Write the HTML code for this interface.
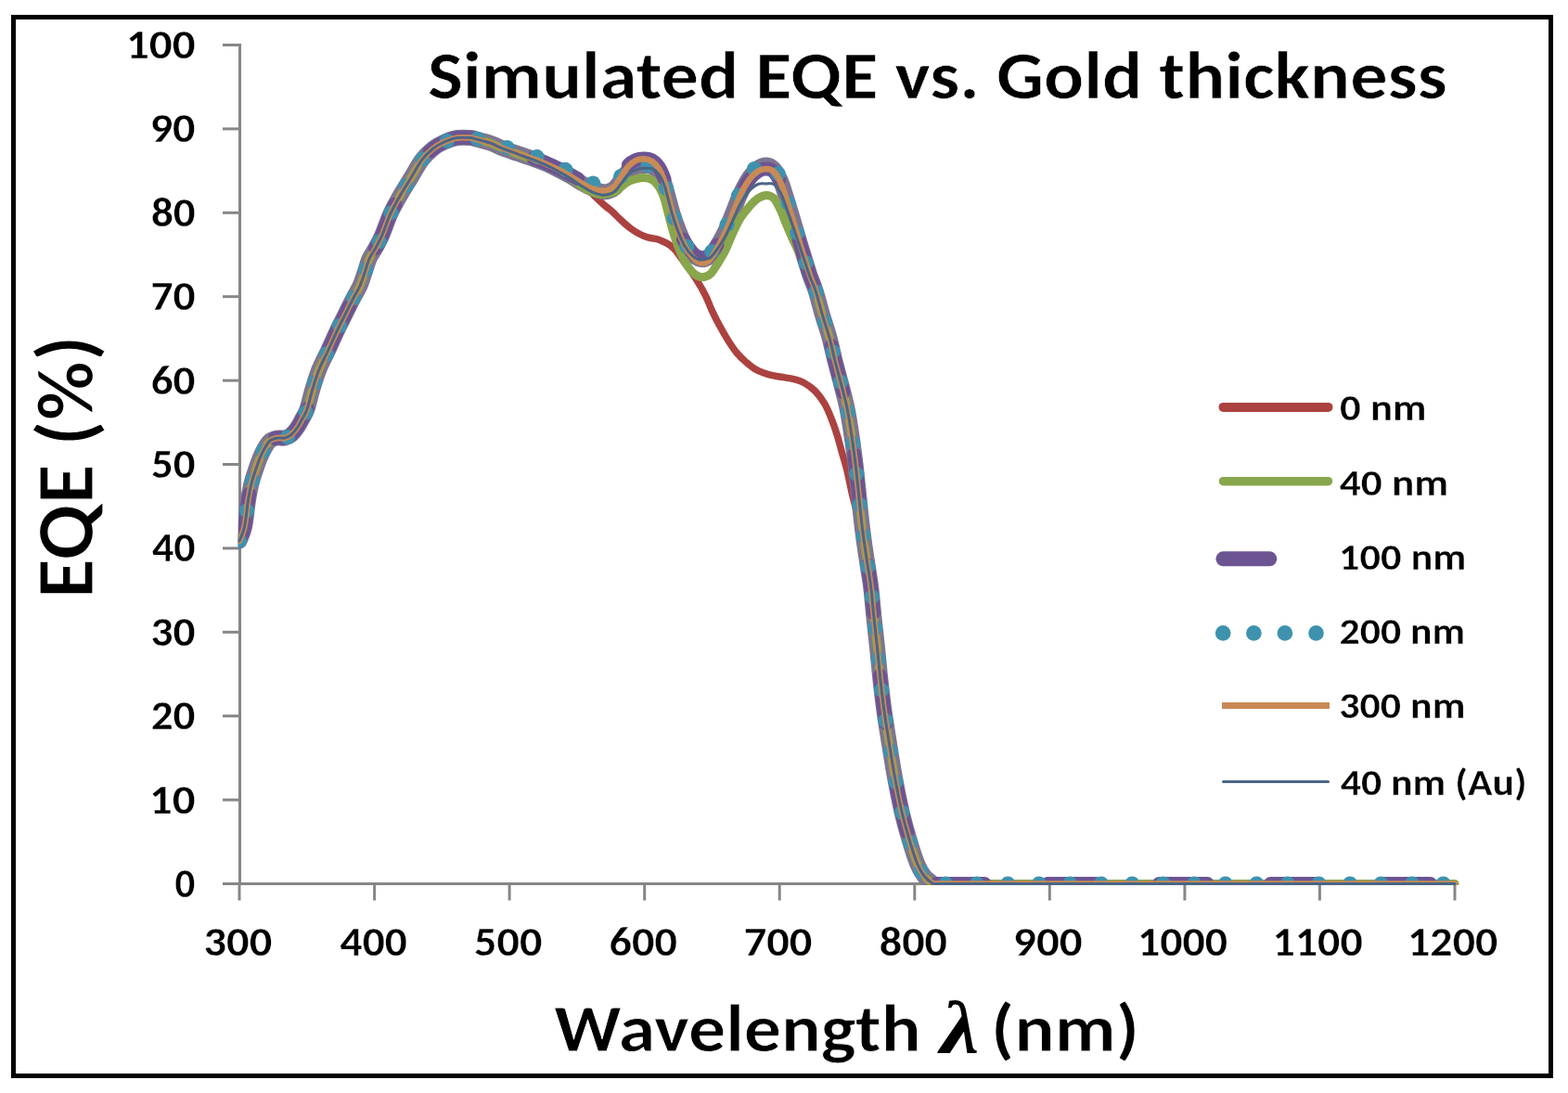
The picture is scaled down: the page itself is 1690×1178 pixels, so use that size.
<!DOCTYPE html>
<html><head><meta charset="utf-8"><title>Simulated EQE vs. Gold thickness</title>
<style>
html,body{margin:0;padding:0;background:#fff;}
body{width:1690px;height:1178px;overflow:hidden;}
svg{display:block;}
text{fill:#000;}
</style></head><body>
<svg width="1690" height="1178" viewBox="0 0 1690 1178">
<rect x="0" y="0" width="1690" height="1178" fill="#fff"/>

<rect x="14.5" y="18.5" width="1657" height="1141" fill="none" stroke="#000" stroke-width="5"/>
<g stroke="#868686" stroke-width="3" fill="none">
<line x1="258.5" y1="47" x2="258.5" y2="954"/>
<line x1="240" y1="952.5" x2="1569.5" y2="952.5"/>
<line x1="240" y1="862.1" x2="258" y2="862.1"/>
<line x1="240" y1="771.7" x2="258" y2="771.7"/>
<line x1="240" y1="681.3" x2="258" y2="681.3"/>
<line x1="240" y1="590.9" x2="258" y2="590.9"/>
<line x1="240" y1="500.5" x2="258" y2="500.5"/>
<line x1="240" y1="410.1" x2="258" y2="410.1"/>
<line x1="240" y1="319.7" x2="258" y2="319.7"/>
<line x1="240" y1="229.3" x2="258" y2="229.3"/>
<line x1="240" y1="138.9" x2="258" y2="138.9"/>
<line x1="240" y1="48.5" x2="258" y2="48.5"/>
<line x1="258.0" y1="952" x2="258.0" y2="970.5"/>
<line x1="403.6" y1="952" x2="403.6" y2="970.5"/>
<line x1="549.1" y1="952" x2="549.1" y2="970.5"/>
<line x1="694.7" y1="952" x2="694.7" y2="970.5"/>
<line x1="840.2" y1="952" x2="840.2" y2="970.5"/>
<line x1="985.8" y1="952" x2="985.8" y2="970.5"/>
<line x1="1131.3" y1="952" x2="1131.3" y2="970.5"/>
<line x1="1276.9" y1="952" x2="1276.9" y2="970.5"/>
<line x1="1422.4" y1="952" x2="1422.4" y2="970.5"/>
<line x1="1568.0" y1="952" x2="1568.0" y2="970.5"/>
</g>
<text x="188.62" y="966.90" style="font-family:Carlito,'Liberation Sans',sans-serif;font-weight:bold" font-size="44.51" textLength="21.76" lengthAdjust="spacingAndGlyphs" stroke="#fff" stroke-width="0.30">0</text>
<text x="161.04" y="876.50" style="font-family:Carlito,'Liberation Sans',sans-serif;font-weight:bold" font-size="44.51" textLength="49.47" lengthAdjust="spacingAndGlyphs" stroke="#fff" stroke-width="0.30">10</text>
<text x="162.71" y="786.10" style="font-family:Carlito,'Liberation Sans',sans-serif;font-weight:bold" font-size="44.51" textLength="47.75" lengthAdjust="spacingAndGlyphs" stroke="#fff" stroke-width="0.30">20</text>
<text x="162.55" y="695.70" style="font-family:Carlito,'Liberation Sans',sans-serif;font-weight:bold" font-size="44.51" textLength="47.92" lengthAdjust="spacingAndGlyphs" stroke="#fff" stroke-width="0.30">30</text>
<text x="163.96" y="605.30" style="font-family:Carlito,'Liberation Sans',sans-serif;font-weight:bold" font-size="44.51" textLength="46.48" lengthAdjust="spacingAndGlyphs" stroke="#fff" stroke-width="0.30">40</text>
<text x="162.95" y="514.90" style="font-family:Carlito,'Liberation Sans',sans-serif;font-weight:bold" font-size="44.51" textLength="47.51" lengthAdjust="spacingAndGlyphs" stroke="#fff" stroke-width="0.30">50</text>
<text x="162.76" y="424.50" style="font-family:Carlito,'Liberation Sans',sans-serif;font-weight:bold" font-size="44.51" textLength="47.70" lengthAdjust="spacingAndGlyphs" stroke="#fff" stroke-width="0.30">60</text>
<text x="162.40" y="334.10" style="font-family:Carlito,'Liberation Sans',sans-serif;font-weight:bold" font-size="44.51" textLength="48.07" lengthAdjust="spacingAndGlyphs" stroke="#fff" stroke-width="0.30">70</text>
<text x="162.90" y="243.70" style="font-family:Carlito,'Liberation Sans',sans-serif;font-weight:bold" font-size="44.51" textLength="47.56" lengthAdjust="spacingAndGlyphs" stroke="#fff" stroke-width="0.30">80</text>
<text x="161.69" y="153.30" style="font-family:Carlito,'Liberation Sans',sans-serif;font-weight:bold" font-size="44.51" textLength="48.80" lengthAdjust="spacingAndGlyphs" stroke="#fff" stroke-width="0.30">90</text>
<text x="136.02" y="62.90" style="font-family:Carlito,'Liberation Sans',sans-serif;font-weight:bold" font-size="44.51" textLength="74.48" lengthAdjust="spacingAndGlyphs" stroke="#fff" stroke-width="0.30">100</text>
<text x="219.60" y="1030.00" style="font-family:Carlito,'Liberation Sans',sans-serif;font-weight:bold" font-size="44.51" textLength="73.59" lengthAdjust="spacingAndGlyphs" stroke="#fff" stroke-width="0.30">300</text>
<text x="366.61" y="1030.00" style="font-family:Carlito,'Liberation Sans',sans-serif;font-weight:bold" font-size="44.51" textLength="72.12" lengthAdjust="spacingAndGlyphs" stroke="#fff" stroke-width="0.30">400</text>
<text x="511.12" y="1030.00" style="font-family:Carlito,'Liberation Sans',sans-serif;font-weight:bold" font-size="44.51" textLength="73.17" lengthAdjust="spacingAndGlyphs" stroke="#fff" stroke-width="0.30">500</text>
<text x="656.49" y="1030.00" style="font-family:Carlito,'Liberation Sans',sans-serif;font-weight:bold" font-size="44.51" textLength="73.37" lengthAdjust="spacingAndGlyphs" stroke="#fff" stroke-width="0.30">600</text>
<text x="801.68" y="1030.00" style="font-family:Carlito,'Liberation Sans',sans-serif;font-weight:bold" font-size="44.51" textLength="73.74" lengthAdjust="spacingAndGlyphs" stroke="#fff" stroke-width="0.30">700</text>
<text x="947.74" y="1030.00" style="font-family:Carlito,'Liberation Sans',sans-serif;font-weight:bold" font-size="44.51" textLength="73.22" lengthAdjust="spacingAndGlyphs" stroke="#fff" stroke-width="0.30">800</text>
<text x="1092.08" y="1030.00" style="font-family:Carlito,'Liberation Sans',sans-serif;font-weight:bold" font-size="44.51" textLength="74.46" lengthAdjust="spacingAndGlyphs" stroke="#fff" stroke-width="0.30">900</text>
<text x="1225.98" y="1030.00" style="font-family:Carlito,'Liberation Sans',sans-serif;font-weight:bold" font-size="44.51" textLength="97.19" lengthAdjust="spacingAndGlyphs" stroke="#fff" stroke-width="0.30">1000</text>
<text x="1371.54" y="1030.00" style="font-family:Carlito,'Liberation Sans',sans-serif;font-weight:bold" font-size="44.51" textLength="97.19" lengthAdjust="spacingAndGlyphs" stroke="#fff" stroke-width="0.30">1100</text>
<text x="1517.09" y="1030.00" style="font-family:Carlito,'Liberation Sans',sans-serif;font-weight:bold" font-size="44.51" textLength="97.19" lengthAdjust="spacingAndGlyphs" stroke="#fff" stroke-width="0.30">1200</text>
<text x="461.01" y="105.80" style="font-family:Carlito,'Liberation Sans',sans-serif;font-weight:bold" font-size="73.15" textLength="1098.72" lengthAdjust="spacingAndGlyphs" stroke="#fff" stroke-width="0.60">Simulated EQE vs. Gold thickness</text>
<text transform="rotate(-90)" x="-645.04" y="100.00" style="font-family:Carlito,'Liberation Sans',sans-serif;font-weight:bold" font-size="87.96" textLength="283.38" lengthAdjust="spacingAndGlyphs" stroke="#fff" stroke-width="1.20">EQE (%)</text>
<text x="597.25" y="1133.00" style="font-family:Carlito,'Liberation Sans',sans-serif;font-weight:bold" font-size="72.53" textLength="395.32" lengthAdjust="spacingAndGlyphs" stroke="#fff" stroke-width="0.80">Wavelength</text>
<text x="1013.43" y="1133.70" style="font-family:'Liberation Serif','DejaVu Serif',serif;font-style:italic;font-weight:bold" font-size="79.69" textLength="41.92" lengthAdjust="spacingAndGlyphs">λ</text>
<text x="1068.05" y="1133.00" style="font-family:Carlito,'Liberation Sans',sans-serif;font-weight:bold" font-size="72.53" textLength="159.89" lengthAdjust="spacingAndGlyphs" stroke="#fff" stroke-width="0.80">(nm)</text>
<defs><clipPath id="pa"><rect x="256.8" y="30" width="1320" height="924"/></clipPath></defs>
<g clip-path="url(#pa)" fill="none" stroke-linecap="round" stroke-linejoin="round">
<path d="M258.0,583.0 C258.9,580.5 261.9,575.3 263.5,568.0 C265.1,560.7 266.2,546.8 267.5,539.0 C268.8,531.2 269.6,526.7 271.0,521.0 C272.4,515.3 274.5,509.5 276.0,505.0 C277.5,500.5 278.5,497.6 280.0,494.0 C281.5,490.4 283.2,486.7 285.0,483.5 C286.8,480.3 288.7,476.9 291.0,475.0 C293.3,473.1 296.3,472.5 299.0,472.0 C301.7,471.5 304.5,472.6 307.0,472.0 C309.5,471.4 311.7,470.5 314.0,468.5 C316.3,466.5 319.0,462.9 321.0,460.0 C323.0,457.1 324.3,454.2 326.0,451.0 C327.7,447.8 329.2,446.3 331.0,441.0 C332.8,435.7 334.8,426.2 337.0,419.0 C339.2,411.8 341.2,405.0 344.0,398.0 C346.8,391.0 350.7,384.2 354.0,377.0 C357.3,369.8 360.9,361.5 364.0,355.0 C367.1,348.5 369.7,343.7 372.5,338.0 C375.3,332.3 378.4,326.0 381.0,321.0 C383.6,316.0 386.0,312.5 388.0,308.0 C390.0,303.5 391.3,298.8 393.0,294.0 C394.7,289.2 396.0,283.5 398.0,279.0 C400.0,274.5 402.7,271.3 405.0,267.0 C407.3,262.7 409.3,259.2 412.0,253.0 C414.7,246.8 417.7,237.2 421.0,230.0 C424.3,222.8 428.3,215.9 432.0,209.5 C435.7,203.1 439.2,197.8 443.0,191.5 C446.8,185.2 451.0,177.2 455.0,172.0 C459.0,166.8 463.0,163.2 467.0,160.0 C471.0,156.8 474.7,154.9 479.0,153.0 C483.3,151.1 488.3,149.2 493.0,148.5 C497.7,147.8 503.3,148.2 507.0,148.5 C510.7,148.8 511.5,149.6 515.0,150.5 C518.5,151.4 523.3,152.4 528.0,154.0 C532.7,155.6 538.0,158.2 543.0,160.0 C548.0,161.8 553.2,163.4 558.0,165.0 C562.8,166.6 567.2,167.8 572.0,169.5 C576.8,171.2 582.2,173.0 587.0,175.0 C591.8,177.0 596.3,179.2 601.0,181.5 C605.7,183.8 610.7,186.2 615.0,189.0 C619.3,191.8 623.3,194.9 627.0,198.0 C630.7,201.1 633.7,204.3 637.0,207.5 C640.3,210.7 644.0,214.4 646.8,217.0 C649.6,219.6 651.3,221.1 653.6,223.0 C655.9,224.9 658.1,226.4 660.4,228.5 C662.7,230.6 664.9,233.1 667.2,235.3 C669.5,237.5 671.7,239.6 674.0,241.5 C676.3,243.4 678.5,245.4 680.8,247.0 C683.1,248.6 685.4,250.1 687.6,251.3 C689.9,252.6 692.0,253.6 694.3,254.5 C696.5,255.4 698.8,256.0 701.1,256.5 C703.4,257.0 705.6,257.1 707.9,257.7 C710.2,258.3 712.4,259.3 714.7,260.3 C717.0,261.3 719.5,262.5 721.5,263.9 C723.5,265.3 725.3,266.8 727.0,268.6 C728.7,270.4 729.5,271.8 731.7,274.7 C733.9,277.6 736.8,281.4 740.0,286.0 C743.2,290.6 747.6,296.6 751.0,302.0 C754.4,307.4 757.7,313.1 760.4,318.5 C763.1,323.9 764.7,328.9 767.2,334.3 C769.7,339.7 772.4,345.2 775.3,350.6 C778.2,356.0 781.6,361.9 784.8,366.9 C788.0,371.9 791.1,376.6 794.3,380.5 C797.5,384.4 800.4,387.1 803.8,390.0 C807.2,392.9 810.6,395.9 814.7,398.2 C818.8,400.5 823.8,402.2 828.3,403.6 C832.8,405.0 837.4,405.5 841.9,406.3 C846.4,407.1 851.5,407.6 855.5,408.6 C859.5,409.6 862.1,410.1 866.0,412.2 C869.9,414.3 874.8,417.7 878.6,421.5 C882.4,425.3 885.8,430.1 888.8,435.2 C891.8,440.3 894.2,446.5 896.4,452.0 C898.6,457.5 900.2,462.3 902.0,468.0 C903.8,473.7 905.2,479.4 907.0,486.0 C908.8,492.6 911.1,499.5 913.0,507.3 C914.9,515.1 916.5,524.2 918.5,532.7 C920.5,541.2 922.9,549.5 925.0,558.0 C927.1,566.5 929.6,575.1 931.3,583.6 C933.0,592.1 933.8,600.6 935.1,609.1 C936.4,617.6 937.8,625.0 938.9,634.5 C940.0,644.0 940.9,655.4 942.0,666.0 C943.1,676.6 944.3,686.3 945.5,698.0 C946.7,709.7 948.0,724.5 949.3,736.0 C950.6,747.5 951.6,756.3 953.1,767.0 C954.6,777.7 956.3,788.2 958.2,800.0 C960.1,811.8 962.2,825.3 964.5,838.0 C966.8,850.7 969.7,865.0 972.2,876.0 C974.8,887.0 977.0,894.8 979.8,904.0 C982.5,913.2 986.0,924.3 988.7,931.0 C991.4,937.7 993.5,940.7 996.0,944.0 C998.5,947.3 1001.0,949.6 1004.0,951.0 C1007.0,952.4 998.0,952.2 1014.0,952.5 C1030.0,952.8 1052.3,952.5 1100.0,952.5 C1147.7,952.5 1222.0,952.5 1300.0,952.5 C1378.0,952.5 1523.3,952.5 1568.0,952.5" stroke="#ab4240" stroke-width="7.5"/>
<path d="M258.0,583.0 C258.9,580.5 261.9,575.3 263.5,568.0 C265.1,560.7 266.2,546.8 267.5,539.0 C268.8,531.2 269.6,526.7 271.0,521.0 C272.4,515.3 274.5,509.5 276.0,505.0 C277.5,500.5 278.5,497.6 280.0,494.0 C281.5,490.4 283.2,486.7 285.0,483.5 C286.8,480.3 288.7,476.9 291.0,475.0 C293.3,473.1 296.3,472.5 299.0,472.0 C301.7,471.5 304.5,472.6 307.0,472.0 C309.5,471.4 311.7,470.5 314.0,468.5 C316.3,466.5 319.0,462.9 321.0,460.0 C323.0,457.1 324.3,454.2 326.0,451.0 C327.7,447.8 329.2,446.3 331.0,441.0 C332.8,435.7 334.8,426.2 337.0,419.0 C339.2,411.8 341.2,405.0 344.0,398.0 C346.8,391.0 350.7,384.2 354.0,377.0 C357.3,369.8 360.9,361.5 364.0,355.0 C367.1,348.5 369.7,343.7 372.5,338.0 C375.3,332.3 378.4,326.0 381.0,321.0 C383.6,316.0 386.0,312.5 388.0,308.0 C390.0,303.5 391.3,298.8 393.0,294.0 C394.7,289.2 396.0,283.5 398.0,279.0 C400.0,274.5 402.7,271.3 405.0,267.0 C407.3,262.7 409.3,259.2 412.0,253.0 C414.7,246.8 417.7,237.2 421.0,230.0 C424.3,222.8 428.3,215.9 432.0,209.5 C435.7,203.1 439.2,197.8 443.0,191.5 C446.8,185.2 451.0,177.2 455.0,172.0 C459.0,166.8 463.0,163.2 467.0,160.0 C471.0,156.8 474.7,154.9 479.0,153.0 C483.3,151.1 488.3,149.2 493.0,148.5 C497.7,147.8 503.3,148.2 507.0,148.5 C510.7,148.8 511.5,149.6 515.0,150.5 C518.5,151.4 523.3,152.4 528.0,154.0 C532.7,155.6 538.0,158.3 543.0,160.3 C548.0,162.2 553.2,163.9 558.0,165.6 C562.8,167.2 567.2,168.6 572.0,170.3 C576.8,172.1 582.2,174.0 587.0,176.0 C591.8,178.0 596.3,180.2 601.0,182.5 C605.7,184.8 610.7,187.5 615.0,190.0 C619.3,192.5 623.2,195.3 627.0,197.5 C630.8,199.7 634.5,201.5 638.0,203.0 C641.5,204.5 645.0,205.8 648.0,206.3 C651.0,206.8 653.5,206.8 656.0,206.1 C658.5,205.4 660.7,204.5 663.0,202.3 C665.3,200.1 667.7,196.0 670.0,193.0 C672.3,190.0 674.5,186.6 677.0,184.4 C679.5,182.2 682.2,181.0 685.0,180.0 C687.8,179.0 691.0,178.7 694.0,178.6 C697.0,178.5 700.3,178.5 703.0,179.7 C705.7,180.9 707.8,183.0 710.0,186.0 C712.2,189.0 714.3,193.5 716.0,197.8 C717.7,202.1 718.5,206.6 720.0,212.0 C721.5,217.4 723.2,224.2 725.0,230.0 C726.8,235.8 728.8,241.5 731.0,247.0 C733.2,252.5 735.5,258.5 738.0,263.0 C740.5,267.5 743.5,271.3 746.0,274.0 C748.5,276.7 750.8,278.1 753.0,279.0 C755.2,279.9 756.8,280.1 759.0,279.5 C761.2,278.9 763.7,278.0 766.0,275.6 C768.3,273.2 770.3,269.6 773.0,265.1 C775.7,260.6 779.2,254.6 782.0,248.5 C784.8,242.5 787.3,235.6 790.0,229.0 C792.7,222.4 795.0,215.4 798.0,209.0 C801.0,202.7 804.8,195.5 808.0,190.8 C811.2,186.2 814.0,183.5 817.0,181.3 C820.0,179.2 823.2,177.9 826.0,178.0 C828.8,178.1 831.5,179.5 834.0,182.1 C836.5,184.8 838.8,189.2 841.0,194.1 C843.2,199.0 845.0,205.5 847.0,211.7 C849.0,217.9 850.8,224.1 853.0,231.3 C855.2,238.5 857.7,247.2 860.0,255.0 C862.3,262.8 864.8,271.0 867.0,278.0 C869.2,285.0 871.0,291.2 873.0,297.0 C875.0,302.8 876.8,306.2 879.0,313.0 C881.2,319.8 883.5,329.5 886.0,338.0 C888.5,346.5 891.7,355.5 894.0,364.0 C896.3,372.5 897.9,380.7 900.0,389.0 C902.1,397.3 904.4,405.5 906.6,414.0 C908.8,422.5 911.1,430.7 913.0,440.0 C914.9,449.3 916.5,460.0 918.0,470.0 C919.5,480.0 920.8,490.3 922.0,500.0 C923.2,509.7 924.0,518.5 925.0,528.0 C926.0,537.5 927.0,547.7 928.0,557.0 C929.0,566.3 930.1,574.9 931.3,583.6 C932.5,592.3 933.8,600.6 935.1,609.1 C936.4,617.6 937.8,625.0 938.9,634.5 C940.0,644.0 940.9,655.4 942.0,666.0 C943.1,676.6 944.3,686.3 945.5,698.0 C946.7,709.7 948.0,724.5 949.3,736.0 C950.6,747.5 951.6,756.3 953.1,767.0 C954.6,777.7 956.3,788.2 958.2,800.0 C960.1,811.8 962.2,825.3 964.5,838.0 C966.8,850.7 969.7,865.0 972.2,876.0 C974.8,887.0 977.0,894.8 979.8,904.0 C982.5,913.2 986.0,924.3 988.7,931.0 C991.4,937.7 993.5,940.7 996.0,944.0 C998.5,947.3 1002.7,949.8 1004.0,951.0" stroke="#7d7590" stroke-width="17"/>
<path d="M258.0,583.0 C258.9,580.5 261.9,575.3 263.5,568.0 C265.1,560.7 266.2,546.8 267.5,539.0 C268.8,531.2 269.6,526.7 271.0,521.0 C272.4,515.3 274.5,509.5 276.0,505.0 C277.5,500.5 278.5,497.6 280.0,494.0 C281.5,490.4 283.2,486.7 285.0,483.5 C286.8,480.3 288.7,476.9 291.0,475.0 C293.3,473.1 296.3,472.5 299.0,472.0 C301.7,471.5 304.5,472.6 307.0,472.0 C309.5,471.4 311.7,470.5 314.0,468.5 C316.3,466.5 319.0,462.9 321.0,460.0 C323.0,457.1 324.3,454.2 326.0,451.0 C327.7,447.8 329.2,446.3 331.0,441.0 C332.8,435.7 334.8,426.2 337.0,419.0 C339.2,411.8 341.2,405.0 344.0,398.0 C346.8,391.0 350.7,384.2 354.0,377.0 C357.3,369.8 360.9,361.5 364.0,355.0 C367.1,348.5 369.7,343.7 372.5,338.0 C375.3,332.3 378.4,326.0 381.0,321.0 C383.6,316.0 386.0,312.5 388.0,308.0 C390.0,303.5 391.3,298.8 393.0,294.0 C394.7,289.2 396.0,283.5 398.0,279.0 C400.0,274.5 402.7,271.3 405.0,267.0 C407.3,262.7 409.3,259.2 412.0,253.0 C414.7,246.8 417.7,237.2 421.0,230.0 C424.3,222.8 428.3,215.9 432.0,209.5 C435.7,203.1 439.2,197.8 443.0,191.5 C446.8,185.2 451.0,177.2 455.0,172.0 C459.0,166.8 463.0,163.2 467.0,160.0 C471.0,156.8 474.7,154.9 479.0,153.0 C483.3,151.1 488.3,149.2 493.0,148.5 C497.7,147.8 503.3,148.2 507.0,148.5 C510.7,148.8 511.5,149.6 515.0,150.5 C518.5,151.4 523.3,152.3 528.0,154.0 C532.7,155.7 538.0,158.5 543.0,160.5 C548.0,162.5 553.2,164.3 558.0,166.1 C562.8,167.9 567.2,169.3 572.0,171.2 C576.8,173.0 582.2,175.1 587.0,177.2 C591.8,179.4 596.3,181.7 601.0,184.2 C605.7,186.7 610.7,189.6 615.0,192.3 C619.3,195.1 623.2,198.2 627.0,200.6 C630.8,203.1 634.5,205.4 638.0,206.9 C641.5,208.3 645.0,209.2 648.0,209.5 C651.0,209.8 653.5,209.0 656.0,208.5 C658.5,208.0 660.7,207.6 663.0,206.3 C665.3,205.1 667.7,202.8 670.0,201.0 C672.3,199.2 674.5,197.1 677.0,195.8 C679.5,194.5 682.2,193.7 685.0,193.0 C687.8,192.3 691.0,191.4 694.0,191.6 C697.0,191.8 700.3,192.4 703.0,194.0 C705.7,195.6 707.8,197.7 710.0,201.0 C712.2,204.3 714.3,209.3 716.0,214.0 C717.7,218.7 718.5,223.3 720.0,229.0 C721.5,234.7 723.2,241.8 725.0,248.0 C726.8,254.2 728.8,260.3 731.0,266.0 C733.2,271.7 735.5,277.5 738.0,282.0 C740.5,286.5 743.5,290.3 746.0,293.0 C748.5,295.7 750.8,297.1 753.0,298.0 C755.2,298.9 756.8,299.0 759.0,298.5 C761.2,298.0 763.7,297.2 766.0,295.0 C768.3,292.8 770.3,289.3 773.0,285.0 C775.7,280.7 779.2,275.1 782.0,269.5 C784.8,263.8 787.3,256.7 790.0,251.0 C792.7,245.3 795.0,240.0 798.0,235.2 C801.0,230.4 804.8,225.8 808.0,222.2 C811.2,218.6 814.0,215.8 817.0,213.8 C820.0,211.8 823.2,210.4 826.0,210.4 C828.8,210.4 831.5,211.1 834.0,213.7 C836.5,216.2 838.8,221.4 841.0,225.8 C843.2,230.3 845.0,235.7 847.0,240.5 C849.0,245.3 850.8,249.8 853.0,254.6 C855.2,259.5 857.7,264.6 860.0,269.8 C862.3,274.9 864.8,280.2 867.0,285.2 C869.2,290.2 871.0,295.0 873.0,299.8 C875.0,304.5 876.8,307.4 879.0,313.8 C881.2,320.1 883.5,329.6 886.0,338.0 C888.5,346.4 891.7,355.5 894.0,364.0 C896.3,372.5 897.9,380.7 900.0,389.0 C902.1,397.3 904.4,405.5 906.6,414.0 C908.8,422.5 911.1,430.7 913.0,440.0 C914.9,449.3 916.5,460.0 918.0,470.0 C919.5,480.0 920.8,490.3 922.0,500.0 C923.2,509.7 924.0,518.5 925.0,528.0 C926.0,537.5 927.0,547.7 928.0,557.0 C929.0,566.3 930.1,574.9 931.3,583.6 C932.5,592.3 933.8,600.6 935.1,609.1 C936.4,617.6 937.8,625.0 938.9,634.5 C940.0,644.0 940.9,655.4 942.0,666.0 C943.1,676.6 944.3,686.3 945.5,698.0 C946.7,709.7 948.0,724.5 949.3,736.0 C950.6,747.5 951.6,756.3 953.1,767.0 C954.6,777.7 956.3,788.2 958.2,800.0 C960.1,811.8 962.2,825.3 964.5,838.0 C966.8,850.7 969.7,865.0 972.2,876.0 C974.8,887.0 977.0,894.8 979.8,904.0 C982.5,913.2 986.0,924.3 988.7,931.0 C991.4,937.7 993.5,940.7 996.0,944.0 C998.5,947.3 1001.0,949.6 1004.0,951.0 C1007.0,952.4 998.0,952.2 1014.0,952.5 C1030.0,952.8 1052.3,952.5 1100.0,952.5 C1147.7,952.5 1222.0,952.5 1300.0,952.5 C1378.0,952.5 1523.3,952.5 1568.0,952.5" stroke="#88a64c" stroke-width="9"/>
<path d="M258.0,583.0 C258.9,580.5 261.9,575.3 263.5,568.0 C265.1,560.7 266.2,546.8 267.5,539.0 C268.8,531.2 269.6,526.7 271.0,521.0 C272.4,515.3 274.5,509.5 276.0,505.0 C277.5,500.5 278.5,497.6 280.0,494.0 C281.5,490.4 283.2,486.7 285.0,483.5 C286.8,480.3 288.7,476.9 291.0,475.0 C293.3,473.1 296.3,472.5 299.0,472.0 C301.7,471.5 304.5,472.6 307.0,472.0 C309.5,471.4 311.7,470.5 314.0,468.5 C316.3,466.5 319.0,462.9 321.0,460.0 C323.0,457.1 324.3,454.2 326.0,451.0 C327.7,447.8 329.2,446.3 331.0,441.0 C332.8,435.7 334.8,426.2 337.0,419.0 C339.2,411.8 341.2,405.0 344.0,398.0 C346.8,391.0 350.7,384.2 354.0,377.0 C357.3,369.8 360.9,361.5 364.0,355.0 C367.1,348.5 369.7,343.7 372.5,338.0 C375.3,332.3 378.4,326.0 381.0,321.0 C383.6,316.0 386.0,312.5 388.0,308.0 C390.0,303.5 391.3,298.8 393.0,294.0 C394.7,289.2 396.0,283.5 398.0,279.0 C400.0,274.5 402.7,271.3 405.0,267.0 C407.3,262.7 409.3,259.2 412.0,253.0 C414.7,246.8 417.7,237.2 421.0,230.0 C424.3,222.8 428.3,215.9 432.0,209.5 C435.7,203.1 439.2,197.8 443.0,191.5 C446.8,185.2 451.0,177.2 455.0,172.0 C459.0,166.8 463.0,163.2 467.0,160.0 C471.0,156.8 474.7,154.9 479.0,153.0 C483.3,151.1 488.3,149.2 493.0,148.5 C497.7,147.8 503.3,148.2 507.0,148.5 C510.7,148.8 511.5,149.6 515.0,150.5 C518.5,151.4 523.3,152.4 528.0,154.0 C532.7,155.6 538.0,158.2 543.0,160.0 C548.0,161.8 553.2,163.4 558.0,165.0 C562.8,166.6 567.2,167.8 572.0,169.5 C576.8,171.2 582.2,173.0 587.0,175.0 C591.8,177.0 596.3,179.2 601.0,181.5 C605.7,183.8 610.7,186.3 615.0,188.5 C619.3,190.7 623.2,193.0 627.0,194.8 C630.8,196.6 634.5,198.0 638.0,199.2 C641.5,200.4 645.0,201.6 648.0,201.9 C651.0,202.2 653.5,202.1 656.0,201.3 C658.5,200.5 660.7,199.5 663.0,197.2 C665.3,194.9 667.7,190.8 670.0,187.7 C672.3,184.5 674.5,180.6 677.0,178.1 C679.5,175.6 682.2,173.9 685.0,172.7 C687.8,171.5 691.0,170.9 694.0,171.0 C697.0,171.1 700.3,171.5 703.0,173.0 C705.7,174.5 707.8,176.7 710.0,180.0 C712.2,183.3 714.3,188.3 716.0,193.0 C717.7,197.7 718.5,202.3 720.0,208.0 C721.5,213.7 723.2,220.8 725.0,227.0 C726.8,233.2 728.8,239.3 731.0,245.0 C733.2,250.7 735.5,256.5 738.0,261.0 C740.5,265.5 743.5,269.3 746.0,272.0 C748.5,274.7 750.8,276.1 753.0,277.0 C755.2,277.9 756.8,278.0 759.0,277.5 C761.2,277.0 763.7,276.2 766.0,274.0 C768.3,271.8 770.3,268.3 773.0,264.0 C775.7,259.7 779.2,253.8 782.0,248.0 C784.8,242.2 787.3,235.3 790.0,229.0 C792.7,222.7 795.0,216.0 798.0,210.0 C801.0,204.0 804.8,197.2 808.0,193.0 C811.2,188.8 814.0,186.3 817.0,184.5 C820.0,182.7 823.2,181.9 826.0,182.0 C828.8,182.1 831.5,182.7 834.0,185.0 C836.5,187.3 838.8,191.3 841.0,196.0 C843.2,200.7 845.0,207.0 847.0,213.0 C849.0,219.0 850.8,225.0 853.0,232.0 C855.2,239.0 857.7,247.3 860.0,255.0 C862.3,262.7 864.8,271.0 867.0,278.0 C869.2,285.0 871.0,291.2 873.0,297.0 C875.0,302.8 876.8,306.2 879.0,313.0 C881.2,319.8 883.5,329.5 886.0,338.0 C888.5,346.5 891.7,355.5 894.0,364.0 C896.3,372.5 897.9,380.7 900.0,389.0 C902.1,397.3 904.4,405.5 906.6,414.0 C908.8,422.5 911.1,430.7 913.0,440.0 C914.9,449.3 916.5,460.0 918.0,470.0 C919.5,480.0 920.8,490.3 922.0,500.0 C923.2,509.7 924.0,518.5 925.0,528.0 C926.0,537.5 927.0,547.7 928.0,557.0 C929.0,566.3 930.1,574.9 931.3,583.6 C932.5,592.3 933.8,600.6 935.1,609.1 C936.4,617.6 937.8,625.0 938.9,634.5 C940.0,644.0 940.9,655.4 942.0,666.0 C943.1,676.6 944.3,686.3 945.5,698.0 C946.7,709.7 948.0,724.5 949.3,736.0 C950.6,747.5 951.6,756.3 953.1,767.0 C954.6,777.7 956.3,788.2 958.2,800.0 C960.1,811.8 962.2,825.3 964.5,838.0 C966.8,850.7 969.7,865.0 972.2,876.0 C974.8,887.0 977.0,894.8 979.8,904.0 C982.5,913.2 986.0,924.3 988.7,931.0 C991.4,937.7 993.5,940.7 996.0,944.0 C998.5,947.3 1001.0,949.6 1004.0,951.0 C1007.0,952.4 998.0,952.2 1014.0,952.5 C1030.0,952.8 1052.3,952.5 1100.0,952.5 C1147.7,952.5 1222.0,952.5 1300.0,952.5 C1378.0,952.5 1523.3,952.5 1568.0,952.5" stroke="#6c5492" stroke-width="15" stroke-dasharray="52 68"/>
<path d="M258.0,583.0 C258.9,580.5 261.9,575.3 263.5,568.0 C265.1,560.7 266.2,546.8 267.5,539.0 C268.8,531.2 269.6,526.7 271.0,521.0 C272.4,515.3 274.5,509.5 276.0,505.0 C277.5,500.5 278.5,497.6 280.0,494.0 C281.5,490.4 283.2,486.7 285.0,483.5 C286.8,480.3 288.7,476.9 291.0,475.0 C293.3,473.1 296.3,472.5 299.0,472.0 C301.7,471.5 304.5,472.6 307.0,472.0 C309.5,471.4 311.7,470.5 314.0,468.5 C316.3,466.5 319.0,462.9 321.0,460.0 C323.0,457.1 324.3,454.2 326.0,451.0 C327.7,447.8 329.2,446.3 331.0,441.0 C332.8,435.7 334.8,426.2 337.0,419.0 C339.2,411.8 341.2,405.0 344.0,398.0 C346.8,391.0 350.7,384.2 354.0,377.0 C357.3,369.8 360.9,361.5 364.0,355.0 C367.1,348.5 369.7,343.7 372.5,338.0 C375.3,332.3 378.4,326.0 381.0,321.0 C383.6,316.0 386.0,312.5 388.0,308.0 C390.0,303.5 391.3,298.8 393.0,294.0 C394.7,289.2 396.0,283.5 398.0,279.0 C400.0,274.5 402.7,271.3 405.0,267.0 C407.3,262.7 409.3,259.2 412.0,253.0 C414.7,246.8 417.7,237.2 421.0,230.0 C424.3,222.8 428.3,215.9 432.0,209.5 C435.7,203.1 439.2,197.8 443.0,191.5 C446.8,185.2 451.0,177.2 455.0,172.0 C459.0,166.8 463.0,163.2 467.0,160.0 C471.0,156.8 474.7,154.9 479.0,153.0 C483.3,151.1 488.3,149.3 493.0,148.5 C497.7,147.7 503.3,147.9 507.0,148.2 C510.7,148.4 511.5,149.0 515.0,149.8 C518.5,150.5 523.3,151.2 528.0,152.6 C532.7,154.0 538.0,156.3 543.0,157.9 C548.0,159.6 553.2,161.1 558.0,162.6 C562.8,164.0 567.2,165.1 572.0,166.7 C576.8,168.3 582.2,170.0 587.0,172.0 C591.8,174.0 596.3,176.2 601.0,178.5 C605.7,180.8 610.7,183.4 615.0,185.7 C619.3,188.0 623.2,190.5 627.0,192.4 C630.8,194.3 634.5,195.9 638.0,197.1 C641.5,198.4 645.0,199.5 648.0,199.9 C651.0,200.3 653.5,199.9 656.0,199.3 C658.5,198.7 660.7,197.9 663.0,196.2 C665.3,194.5 667.7,191.4 670.0,189.0 C672.3,186.6 674.5,183.5 677.0,181.8 C679.5,180.1 682.2,179.6 685.0,179.0 C687.8,178.4 691.0,178.4 694.0,178.3 C697.0,178.3 700.3,177.8 703.0,178.8 C705.7,179.9 707.8,181.7 710.0,184.7 C712.2,187.6 714.3,192.3 716.0,196.7 C717.7,201.1 718.5,205.5 720.0,211.0 C721.5,216.5 723.2,223.5 725.0,229.5 C726.8,235.5 728.8,241.5 731.0,246.9 C733.2,252.3 735.5,257.9 738.0,262.2 C740.5,266.4 743.5,270.0 746.0,272.4 C748.5,274.8 750.8,276.0 753.0,276.7 C755.2,277.4 756.8,277.3 759.0,276.6 C761.2,275.9 763.7,275.0 766.0,272.6 C768.3,270.2 770.3,266.6 773.0,262.1 C775.7,257.6 779.2,251.6 782.0,245.5 C784.8,239.5 787.3,232.6 790.0,226.0 C792.7,219.4 795.0,212.4 798.0,206.1 C801.0,199.8 804.8,192.6 808.0,188.0 C811.2,183.4 814.0,180.7 817.0,178.5 C820.0,176.3 823.2,174.8 826.0,175.0 C828.8,175.2 831.5,176.8 834.0,179.7 C836.5,182.5 838.8,187.0 841.0,192.1 C843.2,197.2 845.0,204.0 847.0,210.4 C849.0,216.7 850.8,223.0 853.0,230.3 C855.2,237.6 857.7,246.1 860.0,254.0 C862.3,261.9 864.8,270.5 867.0,277.7 C869.2,284.9 871.0,291.1 873.0,297.0 C875.0,302.9 876.8,306.2 879.0,313.0 C881.2,319.8 883.5,329.5 886.0,338.0 C888.5,346.5 891.7,355.5 894.0,364.0 C896.3,372.5 897.9,380.7 900.0,389.0 C902.1,397.3 904.4,405.5 906.6,414.0 C908.8,422.5 911.1,430.7 913.0,440.0 C914.9,449.3 916.5,460.0 918.0,470.0 C919.5,480.0 920.8,490.3 922.0,500.0 C923.2,509.7 924.0,518.5 925.0,528.0 C926.0,537.5 927.0,547.7 928.0,557.0 C929.0,566.3 930.1,574.9 931.3,583.6 C932.5,592.3 933.8,600.6 935.1,609.1 C936.4,617.6 937.8,625.0 938.9,634.5 C940.0,644.0 940.9,655.4 942.0,666.0 C943.1,676.6 944.3,686.3 945.5,698.0 C946.7,709.7 948.0,724.5 949.3,736.0 C950.6,747.5 951.6,756.3 953.1,767.0 C954.6,777.7 956.3,788.2 958.2,800.0 C960.1,811.8 962.2,825.3 964.5,838.0 C966.8,850.7 969.7,865.0 972.2,876.0 C974.8,887.0 977.0,894.8 979.8,904.0 C982.5,913.2 986.0,924.3 988.7,931.0 C991.4,937.7 993.5,940.7 996.0,944.0 C998.5,947.3 1001.0,949.6 1004.0,951.0 C1007.0,952.4 998.0,952.2 1014.0,952.5 C1030.0,952.8 1052.3,952.5 1100.0,952.5 C1147.7,952.5 1222.0,952.5 1300.0,952.5 C1378.0,952.5 1523.3,952.5 1568.0,952.5" stroke="#3e92ae" stroke-width="16" stroke-dasharray="0.1 33.4"/>
<path d="M258.0,583.0 C258.9,580.5 261.9,575.3 263.5,568.0 C265.1,560.7 266.2,546.8 267.5,539.0 C268.8,531.2 269.6,526.7 271.0,521.0 C272.4,515.3 274.5,509.5 276.0,505.0 C277.5,500.5 278.5,497.6 280.0,494.0 C281.5,490.4 283.2,486.7 285.0,483.5 C286.8,480.3 288.7,476.9 291.0,475.0 C293.3,473.1 296.3,472.5 299.0,472.0 C301.7,471.5 304.5,472.6 307.0,472.0 C309.5,471.4 311.7,470.5 314.0,468.5 C316.3,466.5 319.0,462.9 321.0,460.0 C323.0,457.1 324.3,454.2 326.0,451.0 C327.7,447.8 329.2,446.3 331.0,441.0 C332.8,435.7 334.8,426.2 337.0,419.0 C339.2,411.8 341.2,405.0 344.0,398.0 C346.8,391.0 350.7,384.2 354.0,377.0 C357.3,369.8 360.9,361.5 364.0,355.0 C367.1,348.5 369.7,343.7 372.5,338.0 C375.3,332.3 378.4,326.0 381.0,321.0 C383.6,316.0 386.0,312.5 388.0,308.0 C390.0,303.5 391.3,298.8 393.0,294.0 C394.7,289.2 396.0,283.5 398.0,279.0 C400.0,274.5 402.7,271.3 405.0,267.0 C407.3,262.7 409.3,259.2 412.0,253.0 C414.7,246.8 417.7,237.2 421.0,230.0 C424.3,222.8 428.3,215.9 432.0,209.5 C435.7,203.1 439.2,197.8 443.0,191.5 C446.8,185.2 451.0,177.2 455.0,172.0 C459.0,166.8 463.0,163.2 467.0,160.0 C471.0,156.8 474.7,154.9 479.0,153.0 C483.3,151.1 488.3,149.2 493.0,148.5 C497.7,147.8 503.3,148.2 507.0,148.5 C510.7,148.8 511.5,149.6 515.0,150.5 C518.5,151.4 523.3,152.4 528.0,154.0 C532.7,155.6 538.0,158.3 543.0,160.3 C548.0,162.2 553.2,163.9 558.0,165.6 C562.8,167.2 567.2,168.6 572.0,170.3 C576.8,172.1 582.2,174.0 587.0,176.0 C591.8,178.0 596.3,180.2 601.0,182.5 C605.7,184.8 610.7,187.5 615.0,190.0 C619.3,192.5 623.2,195.3 627.0,197.5 C630.8,199.7 634.5,201.7 638.0,203.0 C641.5,204.3 645.0,205.2 648.0,205.5 C651.0,205.8 653.5,205.4 656.0,204.5 C658.5,203.6 660.7,202.4 663.0,199.9 C665.3,197.4 667.7,193.1 670.0,189.7 C672.3,186.3 674.5,182.2 677.0,179.4 C679.5,176.7 682.2,174.5 685.0,173.2 C687.8,171.8 691.0,171.2 694.0,171.3 C697.0,171.5 700.3,172.3 703.0,174.0 C705.7,175.8 707.8,178.1 710.0,181.6 C712.2,185.1 714.3,190.3 716.0,195.1 C717.7,199.9 718.5,204.6 720.0,210.4 C721.5,216.2 723.2,223.5 725.0,229.8 C726.8,236.1 728.8,242.4 731.0,248.3 C733.2,254.1 735.5,260.1 738.0,264.8 C740.5,269.6 743.5,273.7 746.0,276.6 C748.5,279.5 750.8,281.2 753.0,282.3 C755.2,283.4 756.8,284.0 759.0,283.4 C761.2,282.8 763.7,281.5 766.0,278.8 C768.3,276.1 770.3,272.2 773.0,267.4 C775.7,262.6 779.2,256.4 782.0,250.2 C784.8,244.0 787.3,236.9 790.0,230.2 C792.7,223.5 795.0,216.4 798.0,210.2 C801.0,204.0 804.8,197.3 808.0,193.0 C811.2,188.7 814.0,186.3 817.0,184.5 C820.0,182.7 823.2,181.9 826.0,182.0 C828.8,182.1 831.5,182.7 834.0,185.0 C836.5,187.3 838.8,191.3 841.0,196.0 C843.2,200.7 845.0,207.0 847.0,213.0 C849.0,219.0 850.8,225.0 853.0,232.0 C855.2,239.0 857.7,247.3 860.0,255.0 C862.3,262.7 864.8,271.0 867.0,278.0 C869.2,285.0 871.0,291.2 873.0,297.0 C875.0,302.8 876.8,306.2 879.0,313.0 C881.2,319.8 883.5,329.5 886.0,338.0 C888.5,346.5 891.7,355.5 894.0,364.0 C896.3,372.5 897.9,380.7 900.0,389.0 C902.1,397.3 904.4,405.5 906.6,414.0 C908.8,422.5 911.1,430.7 913.0,440.0 C914.9,449.3 916.5,460.0 918.0,470.0 C919.5,480.0 920.8,490.3 922.0,500.0 C923.2,509.7 924.0,518.5 925.0,528.0 C926.0,537.5 927.0,547.7 928.0,557.0 C929.0,566.3 930.1,574.9 931.3,583.6 C932.5,592.3 933.8,600.6 935.1,609.1 C936.4,617.6 937.8,625.0 938.9,634.5 C940.0,644.0 940.9,655.4 942.0,666.0 C943.1,676.6 944.3,686.3 945.5,698.0 C946.7,709.7 948.0,724.5 949.3,736.0 C950.6,747.5 951.6,756.3 953.1,767.0 C954.6,777.7 956.3,788.2 958.2,800.0 C960.1,811.8 962.2,825.3 964.5,838.0 C966.8,850.7 969.7,865.0 972.2,876.0 C974.8,887.0 977.0,894.8 979.8,904.0 C982.5,913.2 986.0,924.3 988.7,931.0 C991.4,937.7 993.5,940.7 996.0,944.0 C998.5,947.3 1001.0,949.6 1004.0,951.0 C1007.0,952.4 998.0,952.2 1014.0,952.5 C1030.0,952.8 1052.3,952.5 1100.0,952.5 C1147.7,952.5 1222.0,952.5 1300.0,952.5 C1378.0,952.5 1523.3,952.5 1568.0,952.5" stroke="#c98a55" stroke-width="6.5"/>
<path d="M258.0,583.0 C258.9,580.5 261.9,575.3 263.5,568.0 C265.1,560.7 266.2,546.8 267.5,539.0 C268.8,531.2 269.6,526.7 271.0,521.0 C272.4,515.3 274.5,509.5 276.0,505.0 C277.5,500.5 278.5,497.6 280.0,494.0 C281.5,490.4 283.2,486.7 285.0,483.5 C286.8,480.3 288.7,476.9 291.0,475.0 C293.3,473.1 296.3,472.5 299.0,472.0 C301.7,471.5 304.5,472.6 307.0,472.0 C309.5,471.4 311.7,470.5 314.0,468.5 C316.3,466.5 319.0,462.9 321.0,460.0 C323.0,457.1 324.3,454.2 326.0,451.0 C327.7,447.8 329.2,446.3 331.0,441.0 C332.8,435.7 334.8,426.2 337.0,419.0 C339.2,411.8 341.2,405.0 344.0,398.0 C346.8,391.0 350.7,384.2 354.0,377.0 C357.3,369.8 360.9,361.5 364.0,355.0 C367.1,348.5 369.7,343.7 372.5,338.0 C375.3,332.3 378.4,326.0 381.0,321.0 C383.6,316.0 386.0,312.5 388.0,308.0 C390.0,303.5 391.3,298.8 393.0,294.0 C394.7,289.2 396.0,283.5 398.0,279.0 C400.0,274.5 402.7,271.3 405.0,267.0 C407.3,262.7 409.3,259.2 412.0,253.0 C414.7,246.8 417.7,237.2 421.0,230.0 C424.3,222.8 428.3,215.9 432.0,209.5 C435.7,203.1 439.2,197.8 443.0,191.5 C446.8,185.2 451.0,177.2 455.0,172.0 C459.0,166.8 463.0,163.2 467.0,160.0 C471.0,156.8 474.7,154.9 479.0,153.0 C483.3,151.1 488.3,149.2 493.0,148.5 C497.7,147.8 503.3,148.2 507.0,148.5 C510.7,148.8 511.5,149.6 515.0,150.5 C518.5,151.4 523.3,152.3 528.0,154.0 C532.7,155.7 538.0,158.5 543.0,160.5 C548.0,162.5 553.2,164.3 558.0,166.1 C562.8,167.9 567.2,169.3 572.0,171.2 C576.8,173.0 582.2,175.1 587.0,177.2 C591.8,179.4 596.3,181.7 601.0,184.2 C605.7,186.7 610.7,189.6 615.0,192.3 C619.3,195.1 623.2,198.2 627.0,200.6 C630.8,203.1 634.5,205.3 638.0,206.9 C641.5,208.4 645.0,209.6 648.0,210.0 C651.0,210.4 653.5,210.2 656.0,209.5 C658.5,208.8 660.7,208.1 663.0,206.0 C665.3,204.0 667.7,200.0 670.0,197.1 C672.3,194.1 674.5,190.4 677.0,188.1 C679.5,185.8 682.2,184.4 685.0,183.3 C687.8,182.1 691.0,181.6 694.0,181.3 C697.0,181.1 700.3,180.8 703.0,181.8 C705.7,182.9 707.8,184.7 710.0,187.7 C712.2,190.6 714.3,195.3 716.0,199.7 C717.7,204.1 718.5,208.5 720.0,214.0 C721.5,219.5 723.2,226.5 725.0,232.5 C726.8,238.5 728.8,244.5 731.0,249.9 C733.2,255.3 735.5,260.9 738.0,265.2 C740.5,269.4 743.5,273.0 746.0,275.4 C748.5,277.8 750.8,279.0 753.0,279.7 C755.2,280.4 756.8,280.0 759.0,279.6 C761.2,279.2 763.7,279.0 766.0,277.2 C768.3,275.4 770.3,272.4 773.0,268.6 C775.7,264.8 779.2,259.7 782.0,254.4 C784.8,249.1 787.3,242.8 790.0,237.0 C792.7,231.2 795.0,225.1 798.0,219.8 C801.0,214.4 804.8,208.5 808.0,205.0 C811.2,201.5 814.0,199.7 817.0,198.5 C820.0,197.3 823.2,198.0 826.0,198.0 C828.8,198.0 831.5,196.9 834.0,198.5 C836.5,200.0 838.8,203.3 841.0,207.3 C843.2,211.2 845.0,217.0 847.0,222.3 C849.0,227.6 850.8,233.0 853.0,239.2 C855.2,245.4 857.7,252.8 860.0,259.8 C862.3,266.6 864.8,274.2 867.0,280.6 C869.2,287.0 871.0,293.0 873.0,298.4 C875.0,303.8 876.8,306.6 879.0,313.2 C881.2,319.8 883.5,329.5 886.0,338.0 C888.5,346.5 891.7,355.5 894.0,364.0 C896.3,372.5 897.9,380.7 900.0,389.0 C902.1,397.3 904.4,405.5 906.6,414.0 C908.8,422.5 911.1,430.7 913.0,440.0 C914.9,449.3 916.5,460.0 918.0,470.0 C919.5,480.0 920.8,490.3 922.0,500.0 C923.2,509.7 924.0,518.5 925.0,528.0 C926.0,537.5 927.0,547.7 928.0,557.0 C929.0,566.3 930.1,574.9 931.3,583.6 C932.5,592.3 933.8,600.6 935.1,609.1 C936.4,617.6 937.8,625.0 938.9,634.5 C940.0,644.0 940.9,655.4 942.0,666.0 C943.1,676.6 944.3,686.3 945.5,698.0 C946.7,709.7 948.0,724.5 949.3,736.0 C950.6,747.5 951.6,756.3 953.1,767.0 C954.6,777.7 956.3,788.2 958.2,800.0 C960.1,811.8 962.2,825.3 964.5,838.0 C966.8,850.7 969.7,865.0 972.2,876.0 C974.8,887.0 977.0,894.8 979.8,904.0 C982.5,913.2 986.0,924.3 988.7,931.0 C991.4,937.7 993.5,940.7 996.0,944.0 C998.5,947.3 1001.0,949.6 1004.0,951.0 C1007.0,952.4 998.0,952.2 1014.0,952.5 C1030.0,952.8 1052.3,952.5 1100.0,952.5 C1147.7,952.5 1222.0,952.5 1300.0,952.5 C1378.0,952.5 1523.3,952.5 1568.0,952.5" stroke="#4a6585" stroke-width="3"/>
</g>
<g fill="none" stroke-linecap="round">
<line x1="1318.5" y1="438.9" x2="1431.5" y2="438.9" stroke="#ab4240" stroke-width="10" stroke-linecap="round"/>
<line x1="1318.5" y1="518.7" x2="1431.5" y2="518.7" stroke="#88a64c" stroke-width="9.5" stroke-linecap="round"/>
<line x1="1318.4" y1="602.3" x2="1368.3" y2="602.3" stroke="#6c5492" stroke-width="16"/>
<circle cx="1318.2" cy="682.4" r="8.3" fill="#3e92ae" stroke="none"/>
<circle cx="1351.4" cy="682.4" r="8.3" fill="#3e92ae" stroke="none"/>
<circle cx="1384.9" cy="682.4" r="8.3" fill="#3e92ae" stroke="none"/>
<circle cx="1418.5" cy="682.4" r="8.3" fill="#3e92ae" stroke="none"/>
<line x1="1317.0" y1="760.4" x2="1433.0" y2="760.4" stroke="#c98a55" stroke-width="7" stroke-linecap="butt"/>
<line x1="1318.5" y1="842.4" x2="1431.5" y2="842.4" stroke="#4a6585" stroke-width="3" stroke-linecap="round"/>
</g>
<text x="1444.08" y="453.30" style="font-family:Carlito,'Liberation Sans',sans-serif;font-weight:bold" font-size="39.94" textLength="93.35" lengthAdjust="spacingAndGlyphs" stroke="#fff" stroke-width="0.30">0 nm</text>
<text x="1443.67" y="533.60" style="font-family:Carlito,'Liberation Sans',sans-serif;font-weight:bold" font-size="39.94" textLength="117.49" lengthAdjust="spacingAndGlyphs" stroke="#fff" stroke-width="0.30">40 nm</text>
<text x="1443.03" y="613.60" style="font-family:Carlito,'Liberation Sans',sans-serif;font-weight:bold" font-size="39.94" textLength="137.37" lengthAdjust="spacingAndGlyphs" stroke="#fff" stroke-width="0.30">100 nm</text>
<text x="1443.53" y="693.50" style="font-family:Carlito,'Liberation Sans',sans-serif;font-weight:bold" font-size="39.94" textLength="135.55" lengthAdjust="spacingAndGlyphs" stroke="#fff" stroke-width="0.30">200 nm</text>
<text x="1443.37" y="773.80" style="font-family:Carlito,'Liberation Sans',sans-serif;font-weight:bold" font-size="39.94" textLength="136.01" lengthAdjust="spacingAndGlyphs" stroke="#fff" stroke-width="0.30">300 nm</text>
<text x="1444.68" y="857.00" style="font-family:Carlito,'Liberation Sans',sans-serif;font-weight:bold" font-size="39.94" textLength="201.00" lengthAdjust="spacingAndGlyphs" stroke="#fff" stroke-width="0.30">40 nm (Au)</text>
</svg>
</body></html>
